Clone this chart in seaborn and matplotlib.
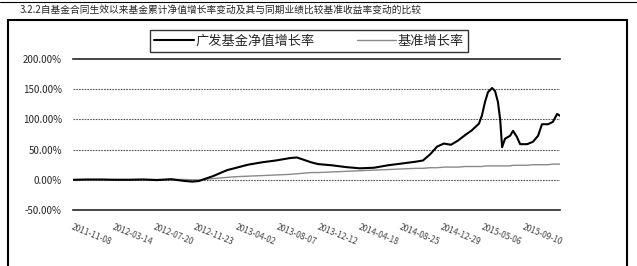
import pandas as pd
import numpy as np
import matplotlib
matplotlib.use("Agg")
import matplotlib.pyplot as plt
import matplotlib.dates as mdates
from matplotlib.patches import Rectangle
from matplotlib.lines import Line2D
import seaborn as sns

# data (percent)
dates = ["2011-11-08", "2011-12-21", "2012-02-03", "2012-03-18", "2012-04-30", "2012-06-13",
         "2012-07-26", "2012-09-08", "2012-10-21", "2012-11-12", "2012-12-04", "2012-12-25",
         "2013-01-16", "2013-02-07", "2013-03-01", "2013-03-23", "2013-05-05", "2013-06-18",
         "2013-07-31", "2013-09-13", "2013-10-04", "2013-10-26", "2013-11-17", "2013-12-09",
         "2014-01-21", "2014-03-06", "2014-04-18", "2014-06-01", "2014-07-14", "2014-08-27",
         "2014-10-09", "2014-10-31", "2014-11-22", "2014-12-14", "2015-01-04", "2015-01-26",
         "2015-02-17", "2015-03-11", "2015-04-01", "2015-04-23", "2015-05-02", "2015-05-12",
         "2015-05-21", "2015-06-03", "2015-06-12", "2015-06-21", "2015-06-28", "2015-07-04",
         "2015-07-13", "2015-07-29", "2015-08-07", "2015-08-19", "2015-08-29", "2015-09-20",
         "2015-10-08", "2015-10-24", "2015-11-05", "2015-11-24", "2015-12-09", "2015-12-22",
         "2015-12-31"]
fund = [0, 0.5, 0.5, 0, 0, 0.5,
        -0.5, 1, -2, -3, -2, 2,
        6, 11, 16, 19, 25, 29,
        32, 36, 37, 33, 29, 26,
        24, 21, 19, 20, 24, 27,
        30, 32, 42, 55, 60, 58,
        65, 74, 82, 93, 106, 129,
        145, 152, 147, 129, 100, 54,
        68, 73, 81, 71, 59, 59,
        63, 73, 92, 92, 96, 109,
        106]
bench = [0, 0, 0, 0.5, 0.5, 0.5,
         0.5, 0.5, 0.5, 0, 0, 1,
         2, 3, 4, 5, 6, 7,
         8, 9, 10, 11, 12, 12,
         13, 14, 15, 16, 17, 18,
         19, 19, 20, 20, 21, 21,
         21, 22, 22, 22, 22, 23,
         23, 23, 23, 23, 23, 23,
         23, 23, 24, 24, 24, 24,
         25, 25, 25, 25, 26, 26,
         26]
tick_dates = ["2011-11-08", "2012-03-14", "2012-07-20", "2012-11-23", "2013-04-02", "2013-08-07",
              "2013-12-12", "2014-04-18", "2014-08-25", "2014-12-29", "2015-05-06", "2015-09-10"]
y_ticks = [-50, 0, 50, 100, 150, 200]

title = "3.2.2自基金合同生效以来基金累计净值增长率变动及其与同期业绩比较基准收益率变动的比较"
fund_label = "广发基金净值增长率"
bench_label = "基准增长率"

df = pd.DataFrame({"date": pd.to_datetime(dates), "fund": fund, "bench": bench})

sns.set_style("white")
plt.rcParams["font.family"] = ["Noto Sans CJK SC", "DejaVu Sans"]

W, H = 637, 266
fig = plt.figure(figsize=(W / 100, H / 100), dpi=100)
ax = fig.add_axes([73 / W, 56 / H, 487 / W, 151 / H])

sns.lineplot(data=df, x="date", y="bench", ax=ax, color="#8a8a8a", lw=1.0, label=bench_label)
sns.lineplot(data=df, x="date", y="fund", ax=ax, color="black", lw=1.5, label=fund_label)

ax.set_xlim(pd.Timestamp(dates[0]), pd.Timestamp(dates[-1]))
ax.set_ylim(-50, 200)
ax.set_yticks(y_ticks)
ax.set_yticklabels([f"{v:.2f}%" for v in y_ticks], fontsize=7)
ax.tick_params(axis="y", length=0, pad=8)
for v in [0, 50, 100, 150]:
    ax.axhline(v, color="#555555", lw=0.8, ls=(0, (1.5, 1)), zorder=0)

ticks = pd.to_datetime(tick_dates)
ax.set_xticks(ticks)
ax.set_xticklabels([t.strftime("%Y-%m-%d") for t in ticks], rotation=-22, ha="left",
                   rotation_mode="anchor", fontsize=6, color="#444444")
ax.xaxis.set_minor_locator(mdates.MonthLocator())
ax.tick_params(axis="x", which="major", direction="in", length=4, width=0.8, pad=9)
ax.tick_params(axis="x", which="minor", direction="in", length=3, width=0.8)
ax.set_xlabel("")
ax.set_ylabel("")

for s in ["left", "right"]:
    ax.spines[s].set_visible(False)
ax.spines["top"].set_linewidth(1.2)
ax.spines["bottom"].set_linewidth(1.2)

ax.get_legend().remove()
h, l = ax.get_legend_handles_labels()
leg = fig.legend(h[::-1], l[::-1], loc="center", bbox_to_anchor=(309 / W, 1 - 41 / H), ncol=2,
                 fontsize=9.5, frameon=True, fancybox=False, edgecolor="black",
                 handlelength=3.0, columnspacing=3.2, handletextpad=0.1, borderpad=0.35,
                 borderaxespad=0)
leg.get_frame().set_linewidth(1.0)

# chart frame and table remnant at the top
fig.add_artist(Rectangle((8 / W, -0.05), 619 / W, 1.05 - 20 / H, transform=fig.transFigure,
                         fill=False, lw=1.5, ec="black"))
fig.add_artist(Line2D([0, 1], [1 - 2 / H, 1 - 2 / H], transform=fig.transFigure, color="black", lw=0.8))

fig.text(20 / W, 1 - 10 / H, title, fontsize=7, va="center", ha="left")

fig.savefig("out.png", dpi=100)
